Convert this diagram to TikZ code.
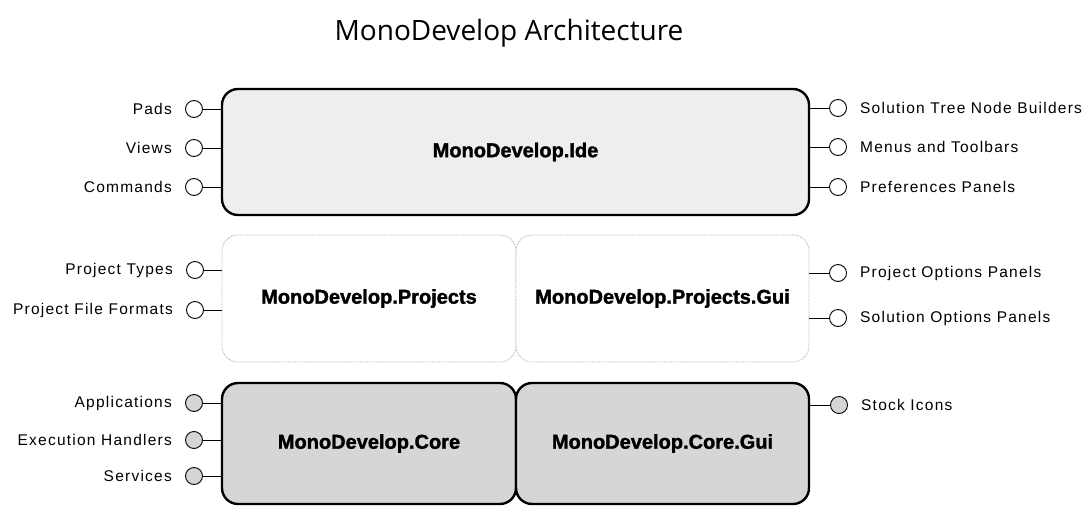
\documentclass[tikz,border=0pt]{standalone}
\usepackage{fontspec}
\newfontfamily\titlefont{Open Sans}
\newfontfamily\labelfont[LetterSpace=8]{Liberation Sans}
\newfontfamily\boxfont[FakeBold=1.6]{Liberation Sans Bold}
\definecolor{topfill}{HTML}{EEEEEE}
\definecolor{corefill}{HTML}{D6D6D6}
\definecolor{dotgray}{HTML}{A8A8A8}
\begin{document}
\begin{tikzpicture}[x=1pt,y=-1pt,
  layer/.style={rectangle, rounded corners=16pt, inner sep=0pt,
    font=\boxfont\fontsize{20}{22}\selectfont},
  solid layer/.style={layer, draw=black, line width=2.4pt},
  light layer/.style={layer, draw=dotgray, line width=0.8pt, densely dotted, fill=white},
  port/.style={circle, draw=black, line width=0.9pt, minimum size=17pt, inner sep=0pt},
  lightport/.style={port, fill=white},
  darkport/.style={port, fill=corefill},
  plug/.style={draw=black, line width=0.8pt},
  lname/.style={anchor=east, font=\labelfont\fontsize{15.5}{17}\selectfont, inner sep=0pt},
  rname/.style={anchor=west, font=\labelfont\fontsize{15.5}{17}\selectfont, inner sep=0pt}]
\useasboundingbox (0,0) rectangle (1091,508);

% title
\node[font=\titlefont\fontsize{28}{32}\selectfont] (title) at (509,33) {MonoDevelop Architecture};

% layers
\node[solid layer, fill=topfill, minimum width=587pt, minimum height=126pt] (ide) at (515.5,152) {MonoDevelop.Ide};
\node[light layer, minimum width=294pt, minimum height=127pt] (proj) at (369,298.5) {MonoDevelop.Projects};
\node[light layer, minimum width=293pt, minimum height=127pt] (projgui) at (662.5,298.5) {MonoDevelop.Projects.Gui};
\node[solid layer, fill=corefill, minimum width=294pt, minimum height=121pt] (core) at (369,443.5) {MonoDevelop.Core};
\node[solid layer, fill=corefill, minimum width=293pt, minimum height=121pt] (coregui) at (662.5,443.5) {MonoDevelop.Core.Gui};

% extension points of MonoDevelop.Ide
\node[lightport] (pads) at (194,109) {};
\node[lightport] (views) at (194,148) {};
\node[lightport] (cmds) at (194,187) {};
\node[lightport] (tree) at (838,108) {};
\node[lightport] (menus) at (838,147) {};
\node[lightport] (prefs) at (838,187) {};
\draw[plug] (pads) -- (pads -| ide.west);
\draw[plug] (views) -- (views -| ide.west);
\draw[plug] (cmds) -- (cmds -| ide.west);
\draw[plug] (tree) -- (tree -| ide.east);
\draw[plug] (menus) -- (menus -| ide.east);
\draw[plug] (prefs) -- (prefs -| ide.east);
\node[lname] (padsl) at ([xshift=-13pt]pads.west) {Pads};
\node[lname] (viewsl) at ([xshift=-13pt]views.west) {Views};
\node[lname] (cmdsl) at ([xshift=-13pt]cmds.west) {Commands};
\node[rname] (treel) at ([xshift=13pt]tree.east) {Solution Tree Node Builders};
\node[rname] (menusl) at ([xshift=13pt]menus.east) {Menus and Toolbars};
\node[rname] (prefsl) at ([xshift=13pt]prefs.east) {Preferences Panels};

% extension points of the project layer
\node[lightport] (ptypes) at (195,270) {};
\node[lightport] (pformats) at (195,310) {};
\node[lightport] (popts) at (838,273) {};
\node[lightport] (sopts) at (838,318) {};
\draw[plug] (ptypes) -- (ptypes -| proj.west);
\draw[plug] (pformats) -- (pformats -| proj.west);
\draw[plug] (popts) -- (popts -| projgui.east);
\draw[plug] (sopts) -- (sopts -| projgui.east);
\node[lname] (ptypesl) at ([xshift=-13pt]ptypes.west) {Project Types};
\node[lname] (pformatsl) at ([xshift=-13pt]pformats.west) {Project File Formats};
\node[rname] (poptsl) at ([xshift=13pt]popts.east) {Project Options Panels};
\node[rname] (soptsl) at ([xshift=13pt]sopts.east) {Solution Options Panels};

% extension points of the core layer
\node[darkport] (apps) at (194,403) {};
\node[darkport] (exec) at (194,440) {};
\node[darkport] (svc) at (194,476) {};
\node[darkport] (icons) at (839,405) {};
\draw[plug] (apps) -- (apps -| core.west);
\draw[plug] (exec) -- (exec -| core.west);
\draw[plug] (svc) -- (svc -| core.west);
\draw[plug] (icons) -- (icons -| coregui.east);
\node[lname] (appsl) at ([xshift=-13pt]apps.west) {Applications};
\node[lname] (execl) at ([xshift=-13pt]exec.west) {Execution Handlers};
\node[lname] (svcl) at ([xshift=-13pt]svc.west) {Services};
\node[rname] (iconsl) at ([xshift=13pt]icons.east) {Stock Icons};
\end{tikzpicture}
\end{document}
